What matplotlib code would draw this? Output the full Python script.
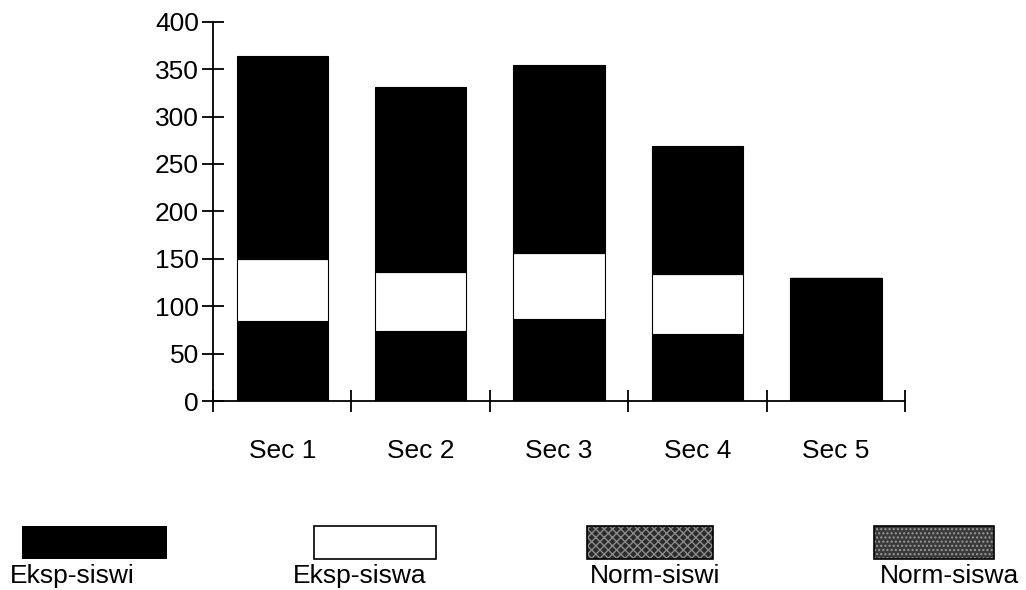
import matplotlib as M
M.use('agg')
import numpy as N
import matplotlib.pyplot as plt
from matplotlib.patches import Rectangle

plt.rcParams['font.family'] = ['Liberation Sans', 'DejaVu Sans']

sections = ['Sec 1', 'Sec 2', 'Sec 3', 'Sec 4', 'Sec 5']
eksp_siswi = [84, 74, 86, 71, 130]
eksp_siswa = [66, 62, 70, 63, 0]
norm_siswi = [110, 100, 100, 70, 0]
norm_siswa = [104, 95, 98, 65, 0]
legend_labels = ['Eksp-siswi', 'Eksp-siswa', 'Norm-siswi', 'Norm-siswa']

fig = plt.figure(figsize=(10.26, 5.9), dpi=100)
ax = fig.add_axes([0.2076, 0.3203, 0.6745, 0.6429])

x = N.arange(len(sections))
w = 0.66
b1 = N.array(eksp_siswi)
b2 = b1 + N.array(eksp_siswa)
b3 = b2 + N.array(norm_siswi)
ax.bar(x, eksp_siswi, w, color='black', edgecolor='black', lw=0.8)
ax.bar(x, eksp_siswa, w, bottom=b1, color='white', edgecolor='black', lw=0.8)
ax.bar(x, norm_siswi, w, bottom=b2, color='black', edgecolor='black', lw=0.8)
ax.bar(x, norm_siswa, w, bottom=b3, color='black', edgecolor='black', lw=0.8)

ax.set_xlim(-0.5, len(sections) - 0.5)
ax.set_ylim(0, 400)
ax.set_yticks(N.arange(0, 401, 50))
ax.set_xticks(N.arange(-0.5, len(sections), 1.0))
ax.set_xticklabels([])
ax.set_xticks(x, minor=True)
ax.set_xticklabels(sections, minor=True, fontsize=19)
ax.tick_params(axis='x', which='minor', length=0, pad=27)
ax.tick_params(axis='x', which='major', direction='inout', length=16, width=1.3)
ax.tick_params(axis='y', direction='inout', length=16, width=1.3, labelsize=19, pad=2)
for s in ['top', 'right']:
    ax.spines[s].set_visible(False)
for s in ['left', 'bottom']:
    ax.spines[s].set_linewidth(1.3)

# legend drawn underneath, labels below swatches
swatches = [
    dict(fc='black', hatch=None, ec='black'),
    dict(fc='white', hatch=None, ec='black'),
    dict(fc='#2b2b2b', hatch='xxxx', ec='#8a8a8a'),
    dict(fc='#3a3a3a', hatch='....', ec='#9a9a9a'),
]
sw_x = [22, 314, 587, 874]
sw_w = [145, 122, 126, 120]
lab_x = [10, 293, 590, 880]
W, H = 1026.0, 590.0
for i, lab in enumerate(legend_labels):
    st = swatches[i]
    r = Rectangle((sw_x[i] / W, (H - 559) / H), sw_w[i] / W, 33 / H,
                  transform=fig.transFigure, facecolor=st['fc'],
                  edgecolor=st['ec'], hatch=st['hatch'], lw=0.0)
    fig.patches.append(r)
    if st['hatch'] is not None or st['fc'] == 'white':
        fig.patches.append(Rectangle((sw_x[i] / W, (H - 559) / H), sw_w[i] / W, 33 / H,
                                     transform=fig.transFigure, facecolor='none',
                                     edgecolor='black', lw=1.2))
    fig.text(lab_x[i] / W, (H - 576) / H, lab, fontsize=19, va='center', ha='left')

fig.savefig('out.png', dpi=100)
plt.close(fig)
